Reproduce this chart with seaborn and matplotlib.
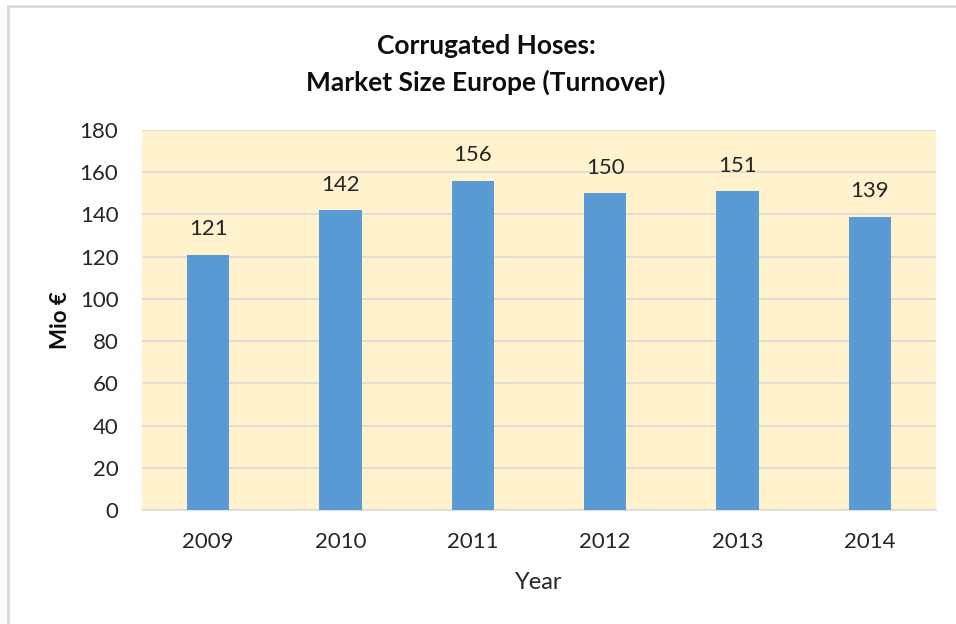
import matplotlib
matplotlib.use("Agg")
import matplotlib.pyplot as plt
import seaborn as sns
import pandas as pd
from matplotlib.lines import Line2D

years = ["2009", "2010", "2011", "2012", "2013", "2014"]
values = [121, 142, 156, 150, 151, 139]
yticks = [0, 20, 40, 60, 80, 100, 120, 140, 160, 180]

sns.set_theme(style="white")
plt.rcParams['font.family'] = ['Lato', 'DejaVu Sans']

df = pd.DataFrame({"Year": years, "Value": values})

fig = plt.figure(figsize=(9.56, 6.24), dpi=100)
ax = fig.add_axes([142/956, 1 - 510/624, (936 - 142)/956, (510 - 130)/624])
ax.set_facecolor("#FFF2CC")

sns.barplot(data=df, x="Year", y="Value", color="#5B9BD5", width=0.32,
            saturation=1, linewidth=0, ax=ax, zorder=3)

ax.set_ylim(0, 180)
ax.set_yticks(yticks)
ax.set_yticklabels([str(t) for t in yticks])
ax.yaxis.grid(True, color="#D9D9D9", linewidth=1.2, zorder=0)
ax.set_axisbelow(True)
for s in ["top", "right", "left"]:
    ax.spines[s].set_visible(False)
ax.spines["bottom"].set_color("#D9D9D9")
ax.spines["bottom"].set_linewidth(1.2)
ax.tick_params(axis="both", length=0, labelsize=16, colors="#262626")
ax.tick_params(axis="x", pad=16)
ax.tick_params(axis="y", pad=17)

for p, v in zip(ax.patches, values):
    ax.annotate(str(v), (p.get_x() + p.get_width()/2, p.get_height()),
                xytext=(0, 11), textcoords="offset points",
                ha="center", va="bottom", fontsize=16, color="#262626")

ax.set_xlabel("Year", fontsize=17, color="#262626", labelpad=14)
ax.set_ylabel("Mio €", fontsize=16, fontweight="bold", color="#0D0D0D", labelpad=6)

fig.text(486/956, 1 - 46/624, "Corrugated Hoses:", ha="center", va="center",
         fontsize=19, fontweight="bold", color="#0D0D0D")
fig.text(486/956, 1 - 82/624, "Market Size Europe (Turnover)", ha="center", va="center",
         fontsize=19, fontweight="bold", color="#0D0D0D")

# outer chart frame (top and left visible)
fig.add_artist(Line2D([8/956, 8/956], [0, 1 - 6/624], transform=fig.transFigure,
                      color="#D9D9D9", linewidth=2))
fig.add_artist(Line2D([8/956, 1], [1 - 6/624, 1 - 6/624], transform=fig.transFigure,
                      color="#D9D9D9", linewidth=2))

fig.savefig("out.png", dpi=100)
